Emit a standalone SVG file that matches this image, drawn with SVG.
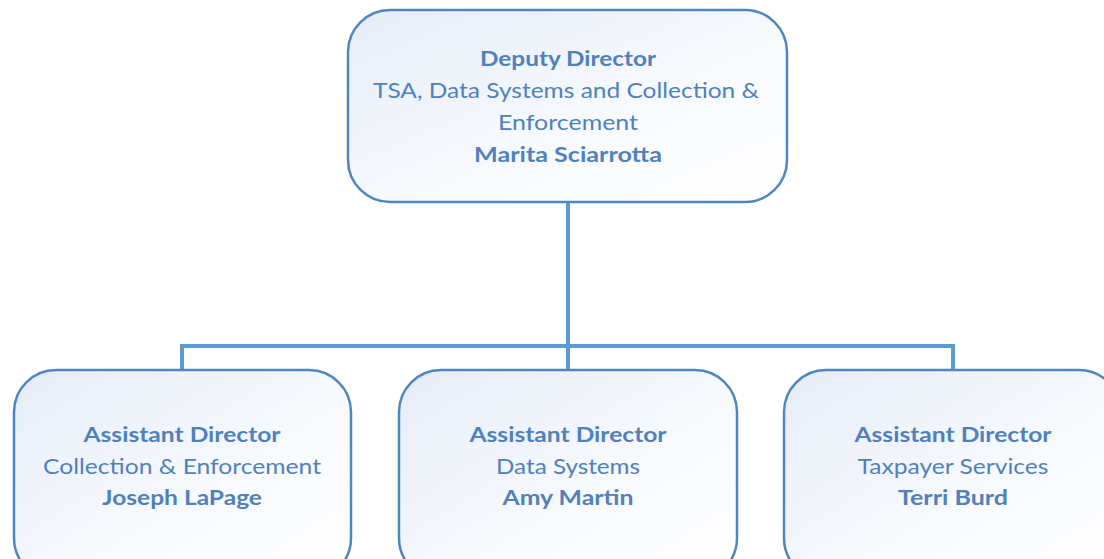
<svg xmlns="http://www.w3.org/2000/svg" width="1104" height="559" viewBox="0 0 1104 559">
<defs>
<linearGradient id="g" x1="0" y1="0" x2="1" y2="1">
<stop offset="0" stop-color="#e6ecf7"/>
<stop offset="0.6" stop-color="#f8fafd"/>
<stop offset="1" stop-color="#ffffff"/>
</linearGradient>
</defs>
<style>
.box{fill:url(#g);stroke:#4f86bf;stroke-width:2.5}
.conn{fill:none;stroke:#5b9bd5;stroke-width:4}
text{font-family:Lato,"Open Sans",sans-serif;font-size:21.5px;fill:#4f81bd;text-anchor:middle}
.b{font-weight:bold}
</style>
<g id="connectors">
<path class="conn" d="M568 202 V346 M182 370 V346 H953 V370 M568 346 V370"/>
</g>
<g id="deputy">
<rect class="box" x="348" y="10" width="439" height="192" rx="42"/>
<text class="b" x="568" y="66" textLength="176" lengthAdjust="spacingAndGlyphs">Deputy Director</text>
<text x="566" y="98" textLength="386" lengthAdjust="spacingAndGlyphs">TSA, Data Systems and Collection &amp;</text>
<text x="568" y="130" textLength="140" lengthAdjust="spacingAndGlyphs">Enforcement</text>
<text class="b" x="568" y="162" textLength="188" lengthAdjust="spacingAndGlyphs">Marita Sciarrotta</text>
</g>
<g id="ad-collection">
<rect class="box" x="14" y="370" width="337" height="210" rx="42"/>
<text class="b" x="182" y="442" textLength="197" lengthAdjust="spacingAndGlyphs">Assistant Director</text>
<text x="182" y="474" textLength="278" lengthAdjust="spacingAndGlyphs">Collection &amp; Enforcement</text>
<text class="b" x="182" y="505" textLength="160" lengthAdjust="spacingAndGlyphs">Joseph LaPage</text>
</g>
<g id="ad-data">
<rect class="box" x="399" y="370" width="338" height="210" rx="42"/>
<text class="b" x="568" y="442" textLength="197" lengthAdjust="spacingAndGlyphs">Assistant Director</text>
<text x="568" y="474" textLength="144" lengthAdjust="spacingAndGlyphs">Data Systems</text>
<text class="b" x="568" y="505" textLength="131" lengthAdjust="spacingAndGlyphs">Amy Martin</text>
</g>
<g id="ad-taxpayer">
<rect class="box" x="784" y="370" width="337" height="210" rx="42"/>
<text class="b" x="953" y="442" textLength="197" lengthAdjust="spacingAndGlyphs">Assistant Director</text>
<text x="953" y="474" textLength="191" lengthAdjust="spacingAndGlyphs">Taxpayer Services</text>
<text class="b" x="953" y="505" textLength="110" lengthAdjust="spacingAndGlyphs">Terri Burd</text>
</g>
</svg>
